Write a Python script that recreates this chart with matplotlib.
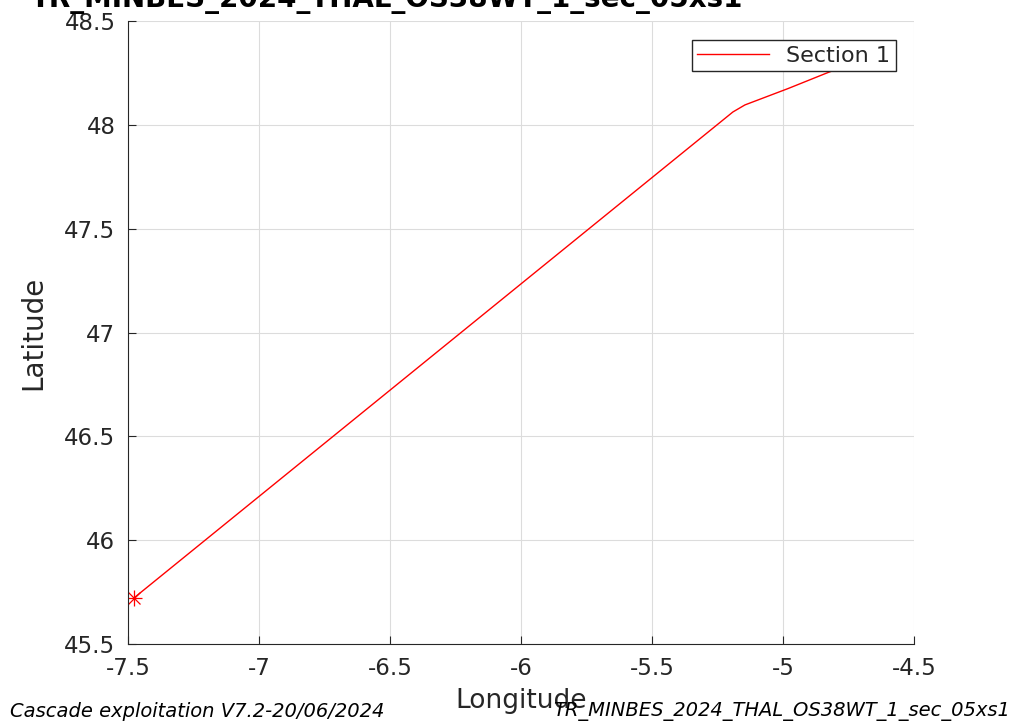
import matplotlib
matplotlib.use("Agg")
import matplotlib.pyplot as plt

# Section 1 track
lon = [-7.477, -6.0, -5.191, -5.145, -4.98, -4.832, -4.78]
lat = [45.722, 47.234, 48.062, 48.096, 48.175, 48.250, 48.275]

xticks = [-7.5, -7, -6.5, -6, -5.5, -5, -4.5]
yticks = [45.5, 46, 46.5, 47, 47.5, 48, 48.5]
xticklabels = ["-7.5", "-7", "-6.5", "-6", "-5.5", "-5", "-4.5"]
yticklabels = ["45.5", "46", "46.5", "47", "47.5", "48", "48.5"]

title = "TR_MINBES_2024_THAL_OS38WT_1_sec_05xs1"
footer_left = "Cascade exploitation V7.2-20/06/2024"
footer_right = "TR_MINBES_2024_THAL_OS38WT_1_sec_05xs1"

fig = plt.figure(figsize=(10.14, 7.25), dpi=100)
ax = fig.add_axes([0.1262, 0.1117, 0.7751, 0.8593])

ax.plot(lon, lat, color="red", lw=1, label="Section 1")
# MATLAB-like asterisk at the start of the section
ax.plot(lon[0], lat[0], marker="+", color="red", ms=11, mew=0.9, linestyle="none")
ax.plot(lon[0], lat[0], marker="x", color="red", ms=8, mew=0.9, linestyle="none")

ax.set_xlim(-7.5, -4.5)
ax.set_ylim(45.5, 48.5)
ax.set_xticks(xticks)
ax.set_xticklabels(xticklabels)
ax.set_yticks(yticks)
ax.set_yticklabels(yticklabels)
ax.tick_params(direction="in", length=6, labelsize=16.5, colors="#262626", pad=9)
ax.grid(True, color="#dcdcdc", lw=0.8)
ax.set_axisbelow(True)
for s in ["top", "right"]:
    ax.spines[s].set_visible(False)
for s in ["left", "bottom"]:
    ax.spines[s].set_color("#262626")

ax.set_xlabel("Longitude", fontsize=19, color="#262626", labelpad=6)
ax.set_ylabel("Latitude", fontsize=20, color="#262626", labelpad=12)

leg = ax.legend(loc="upper right", fontsize=16, fancybox=False, framealpha=1,
                edgecolor="#262626", handlelength=3.2, borderpad=0.25,
                borderaxespad=0, bbox_to_anchor=(0.977, 0.9695))
leg.get_frame().set_linewidth(1)
for t in leg.get_texts():
    t.set_color("#262626")

fig.text(387 / 1014, 1.0, title, fontsize=20, fontweight="bold",
         ha="center", va="center")
fig.text(10 / 1014, 0.018, footer_left, fontsize=14, style="italic",
         ha="left", va="center")
fig.text(1010 / 1014, 0.018, footer_right, fontsize=14, style="italic",
         ha="right", va="center")

fig.savefig("out.png", dpi=100)
